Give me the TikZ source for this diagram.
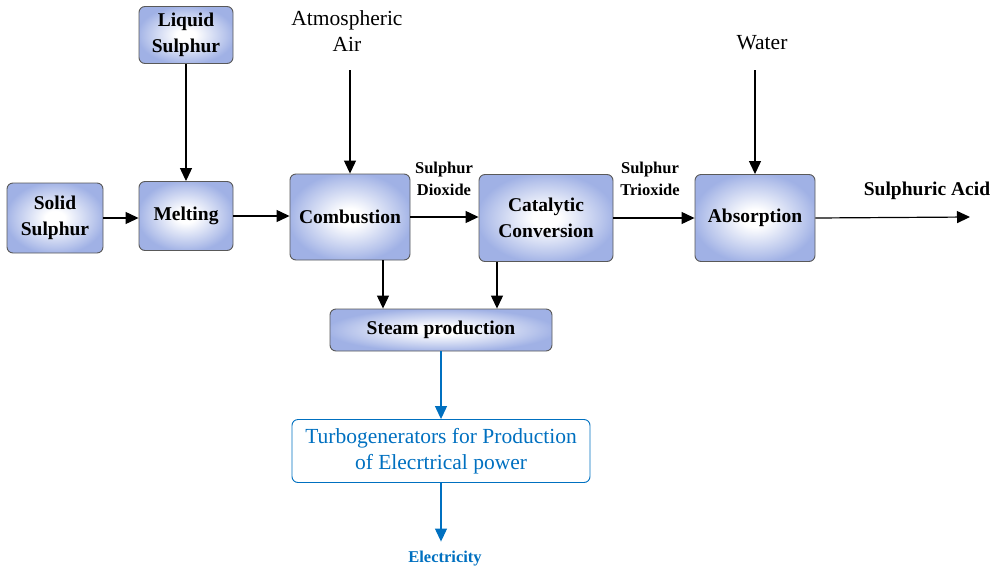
\documentclass[tikz,border=0pt]{standalone}
\usepackage{fontspec}
\setmainfont{Liberation Serif}
\usetikzlibrary{positioning, shapes.geometric, arrows.meta}
\definecolor{boxblue}{RGB}{160,177,229}
\definecolor{elecblue}{RGB}{0,112,192}
\pgfdeclareradialshading{stageshade}{\pgfpoint{0bp}{0bp}}{color(0bp)=(white); color(5bp)=(white); color(21bp)=(boxblue!75!white); color(26bp)=(boxblue); color(50bp)=(boxblue)}

\begin{document}
\begin{tikzpicture}[x=1pt, y=-1pt, line width=1.2pt,
  stage/.style={rectangle, rounded corners=6pt, draw=black!65, line width=0.9pt, shading=stageshade, align=center, font=\fontsize{19.5}{26}\selectfont\bfseries},
  feed/.style={align=center, font=\fontsize{21.5}{26}\selectfont},
  tag/.style={align=center, font=\fontsize{16.5}{22}\selectfont\bfseries},
  flow/.style={-{Triangle[length=13pt,width=12pt]}},
  power/.style={flow, draw=elecblue, fill=elecblue}]
\useasboundingbox (0,0) rectangle (997,574);

% process stages
\node[stage, minimum width=96pt, minimum height=70pt] (solid) at (55,218) {Solid\\Sulphur};
\node[stage, minimum width=94pt, minimum height=57pt] (liquid) at (186,35) {Liquid\\Sulphur};
\node[stage, minimum width=94pt, minimum height=69pt] (melting) at (186,216) {Melting};
\node[stage, minimum width=120pt, minimum height=86pt] (combustion) at (350,217) {Combustion};
\node[stage, minimum width=134pt, minimum height=87pt] (catalytic) at (546,218) {Catalytic\\Conversion};
\node[stage, minimum width=120pt, minimum height=87pt] (absorption) at (755,218) {Absorption};
\node[stage, minimum width=222pt, minimum height=42pt] (steam) at (441,330) {Steam production};
\node[draw=elecblue, line width=0.9pt, rounded corners=6pt, minimum width=298pt, minimum height=63pt, align=center, text=elecblue, font=\fontsize{21.5}{26}\selectfont] (turbo) at (441,451) {Turbogenerators for Production\\of Elecrtrical power};

% inputs, outputs and stream labels
\node[feed] (air) at (347,31) {Atmospheric\\Air};
\node[feed] (water) at (762,43) {Water};
\node[feed, font=\fontsize{19.5}{26}\selectfont\bfseries] (acid) at (927,191) {Sulphuric Acid};
\node[tag] (dioxide) at (444,179) {Sulphur\\Dioxide};
\node[tag] (trioxide) at (650,179) {Sulphur\\Trioxide};
\node[tag, text=elecblue] (elec) at (445,559) {Electricity};

\coordinate (airin) at (350,70);
\coordinate (waterin) at (755,70);
\coordinate (acidout) at (970,217);

% arrows
\draw[flow] (solid.east) -- (solid.east -| melting.west);
\draw[flow] (liquid) -- (melting);
\draw[flow] (melting.east) -- (melting.east -| combustion.west);
\draw[flow] (airin) -- (airin |- combustion.north);
\draw[flow] (combustion.east) -- (combustion.east -| catalytic.west);
\draw[flow] (catalytic.east) -- (catalytic.east -| absorption.west);
\draw[flow] (waterin) -- (waterin |- absorption.north);
\draw[flow] (absorption.east) -- (acidout);
\draw[flow] ([xshift=33pt]combustion.south) -- ([xshift=33pt]combustion.south |- steam.north);
\draw[flow] ([xshift=-49pt]catalytic.south) -- ([xshift=-49pt]catalytic.south |- steam.north);
\draw[power] (steam) -- (turbo);
\draw[power] (turbo.south) -- ([yshift=6pt]turbo.south |- elec.north);
\end{tikzpicture}
\end{document}
